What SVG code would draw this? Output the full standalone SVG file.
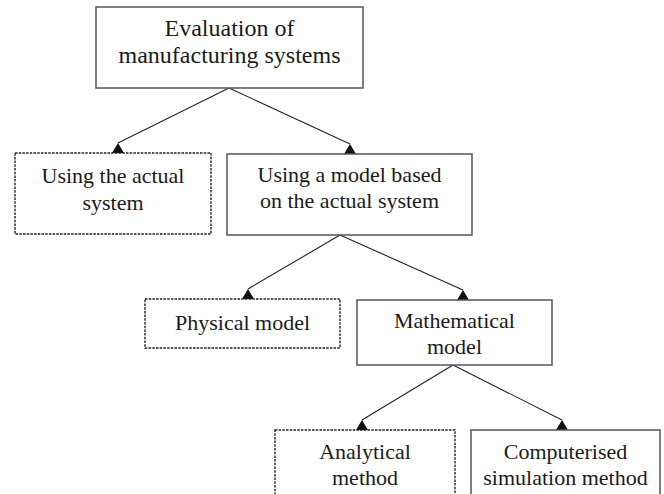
<svg xmlns="http://www.w3.org/2000/svg" xmlns:xlink="http://www.w3.org/1999/xlink" width="664" height="494" viewBox="0 0 664 494">
<style>
.box{fill:#fff;stroke:#555;stroke-width:1.5}
.dbox{fill:#fff;stroke:#222;stroke-width:1.4;stroke-dasharray:2.5 1.2}
.t{font-family:'Liberation Serif','Times New Roman',serif;font-size:22px;fill:#1a1a1a;text-anchor:middle}
.tl{font-size:24px}
.c{stroke:#222;stroke-width:1.1;fill:none}
.ah{fill:#111}
</style>
<defs>
<path id="tri" d="M0,-10 L6,0 L-6,0 Z"/>
</defs>
<rect width="664" height="494" fill="#fff"/>
<g id="connectors">
<line class="c" x1="229" y1="88" x2="118" y2="143"/>
<line class="c" x1="229" y1="88" x2="350" y2="144"/>
<line class="c" x1="340" y1="235" x2="248" y2="289"/>
<line class="c" x1="340" y1="235" x2="463" y2="290"/>
<line class="c" x1="453" y1="365" x2="362" y2="420"/>
<line class="c" x1="453" y1="365" x2="562" y2="420"/>
<use class="ah" xlink:href="#tri" x="118" y="153"/>
<use class="ah" xlink:href="#tri" x="350" y="154"/>
<use class="ah" xlink:href="#tri" x="248" y="299"/>
<use class="ah" xlink:href="#tri" x="463" y="300"/>
<use class="ah" xlink:href="#tri" x="362" y="430"/>
<use class="ah" xlink:href="#tri" x="562" y="430"/>
</g>
<g id="n-eval">
<rect class="box" x="96" y="7" width="267" height="81"/>
<text class="t tl" x="229.5" y="36">Evaluation of</text>
<text class="t tl" x="229.5" y="63">manufacturing systems</text>
</g>
<g id="n-actual">
<rect class="dbox" x="15" y="153" width="196" height="81"/>
<text class="t" x="113" y="183">Using the actual</text>
<text class="t" x="113" y="210">system</text>
</g>
<g id="n-model">
<rect class="box" x="227" y="154" width="245" height="81"/>
<text class="t" x="349.5" y="182">Using a model based</text>
<text class="t" x="349.5" y="208">on the actual system</text>
</g>
<g id="n-physical">
<rect class="dbox" x="145" y="299" width="195" height="49"/>
<text class="t" x="242.5" y="330">Physical model</text>
</g>
<g id="n-math">
<rect class="box" x="357" y="300" width="195" height="65"/>
<text class="t" x="454.5" y="328">Mathematical</text>
<text class="t" x="454.5" y="354">model</text>
</g>
<g id="n-analytical">
<rect class="dbox" x="275" y="430" width="180" height="80"/>
<text class="t" x="365" y="459">Analytical</text>
<text class="t" x="365" y="485">method</text>
</g>
<g id="n-sim">
<rect class="box" x="471" y="430" width="189" height="80"/>
<text class="t" x="565.5" y="459">Computerised</text>
<text class="t" x="565.5" y="485">simulation method</text>
</g>
</svg>
